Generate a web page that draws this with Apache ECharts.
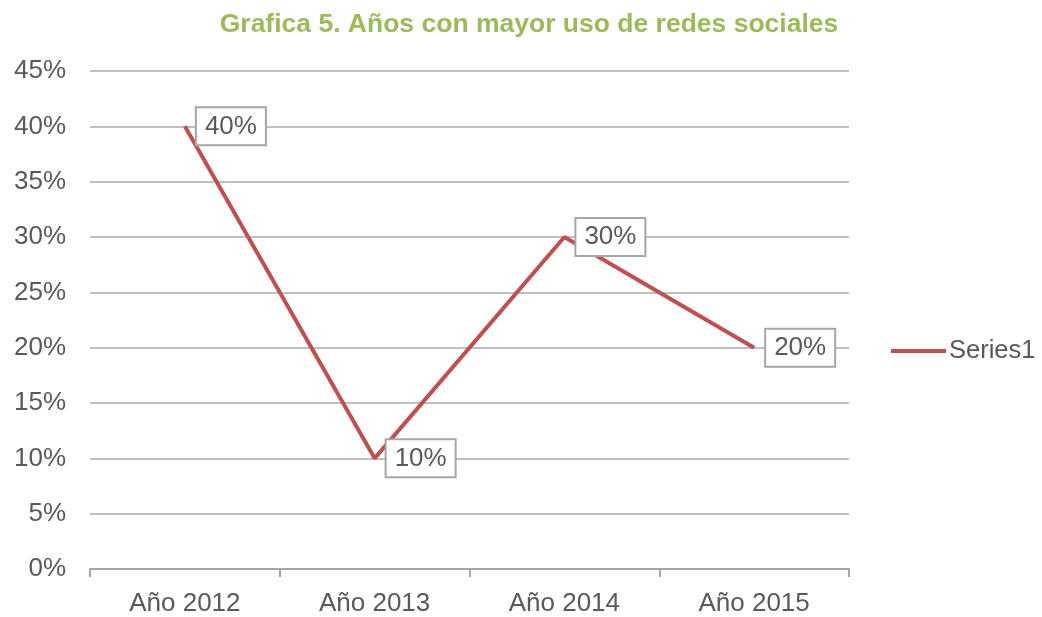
<!DOCTYPE html>
<html>
<head>
<meta charset="utf-8">
<title>Grafica 5</title>
<script src="https://cdn.jsdelivr.net/npm/echarts@6/dist/echarts.min.js"></script>
<style>
  html, body { margin: 0; padding: 0; background: #fff; }
  #main { width: 1042px; height: 617px; }
</style>
</head>
<body>
<div id="main"></div>
<script>
// datos de la grafica
var categories = ['Año 2012', 'Año 2013', 'Año 2014', 'Año 2015'];
var values = [40, 10, 30, 20];
var seriesName = 'Series1';

var chart = echarts.init(document.getElementById('main'));

var option = {
    backgroundColor: '#ffffff',
    animation: false,
    title: {
        text: 'Grafica 5. Años con mayor uso de redes sociales',
        left: 524,
        textAlign: 'center',
        top: 6,
        textStyle: {
            color: '#9BBB59',
            fontSize: 26.5,
            fontWeight: 'bold',
            fontFamily: '"Liberation Sans", Arial, sans-serif'
        }
    },
    legend: {
        data: [seriesName],
        orient: 'vertical',
        left: 886,
        top: 333,
        itemWidth: 55,
        itemHeight: 4,
        itemGap: 6,
        icon: 'rect',
        textStyle: {
            color: '#595959',
            fontSize: 25.5,
            padding: [0, 0, 0, -2],
            fontFamily: '"Liberation Sans", Arial, sans-serif'
        }
    },
    grid: {
        left: 90,
        right: 193,
        top: 71,
        bottom: 48,
        containLabel: false
    },
    xAxis: {
        type: 'category',
        data: categories,
        boundaryGap: true,
        axisLine: { lineStyle: { color: '#A6A6A6', width: 2 } },
        axisTick: { show: true, length: 8, inside: false, lineStyle: { color: '#A6A6A6', width: 2 } },
        axisLabel: {
            color: '#595959',
            fontSize: 26,
            margin: 22,
            fontFamily: '"Liberation Sans", Arial, sans-serif'
        }
    },
    yAxis: {
        type: 'value',
        min: 0,
        max: 45,
        interval: 5,
        axisLine: { show: false },
        axisTick: { show: false },
        splitLine: { lineStyle: { color: '#BFBFBF', width: 2 } },
        axisLabel: {
            formatter: '{value}%',
            color: '#595959',
            fontSize: 26,
            margin: 24,
            fontFamily: '"Liberation Sans", Arial, sans-serif'
        }
    },
    series: [{
        name: seriesName,
        type: 'line',
        data: values,
        symbol: 'circle',
        symbolSize: 0,
        showSymbol: true,
        lineStyle: { color: '#C0504D', width: 4 },
        itemStyle: { color: '#C0504D' },
        label: {
            show: true,
            position: 'right',
            distance: 12,
            formatter: '{c}%',
            color: '#595959',
            fontSize: 26,
            fontFamily: '"Liberation Sans", Arial, sans-serif',
            backgroundColor: '#ffffff',
            borderColor: '#A6A6A6',
            borderWidth: 2,
            padding: [6, 8, 4, 8]
        }
    }]
};

chart.setOption(option);
</script>
</body>
</html>
